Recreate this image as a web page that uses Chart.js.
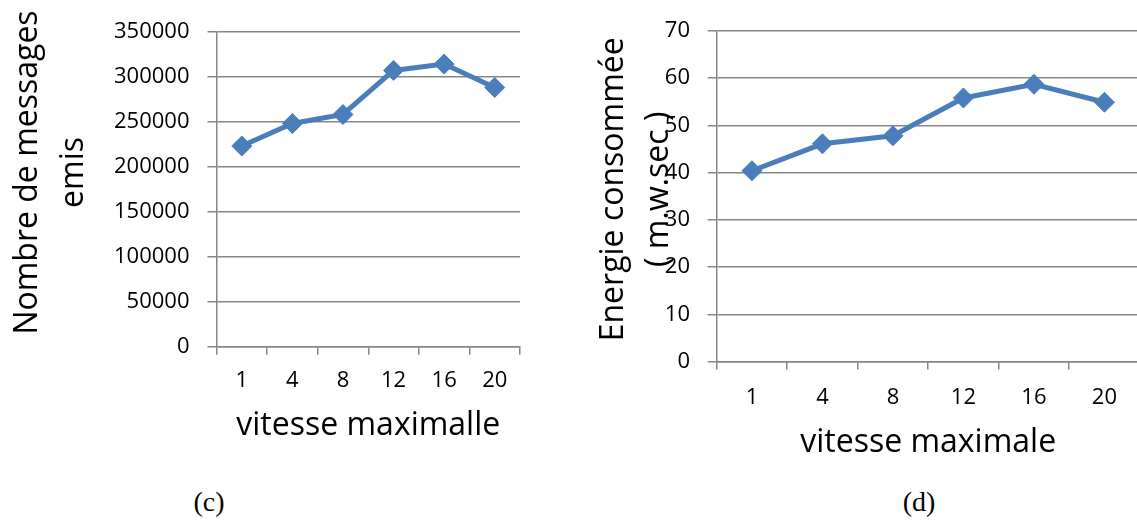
<!DOCTYPE html>
<html lang="fr">
<head>
<meta charset="utf-8">
<title>Vitesse maximale : messages émis et énergie consommée</title>
<script src="https://cdn.jsdelivr.net/npm/chart.js@4.4.1/dist/chart.umd.min.js"></script>
<style>
  html, body { margin: 0; padding: 0; background: #fff; }
  body { width: 1137px; height: 521px; position: relative; overflow: hidden; }
  #chartC { position: absolute; left: 0; top: 0; }
  #chartD { position: absolute; left: 590px; top: 0; }
  .caption {
    position: absolute; top: 488px;
    font-family: "Liberation Serif", "Times New Roman", serif;
    font-size: 28px; line-height: 28px; color: #000;
    transform: translateX(-50%); white-space: nowrap;
  }
</style>
</head>
<body>
<canvas id="chartC" width="540" height="470"></canvas>
<canvas id="chartD" width="570" height="470"></canvas>
<div class="caption" style="left:209px">(c)</div>
<div class="caption" style="left:919px">(d)</div>
<script>
// Vitesse maximale des noeuds (catégories de l'axe horizontal)
const vitesses = ['1', '4', '8', '12', '16', '20'];
// (c) nombre de messages émis
const messagesEmis = [223000, 248000, 258000, 307000, 314000, 288000];
// (d) énergie consommée (m.w.sec)
const energieConsommee = [40.4, 46.1, 47.8, 55.8, 58.7, 54.9];
// graduations des axes verticaux
const messagesTicks = [0, 50000, 100000, 150000, 200000, 250000, 300000, 350000];
const energieTicks = [0, 10, 20, 30, 40, 50, 60, 70];

const SERIES = '#4A7EBB';
const GRID = '#868686';
const FONT = '"Open Sans", sans-serif';

// Titre vertical sur plusieurs lignes, tourné de 90°
const sideTitle = {
  id: 'sideTitle',
  afterDraw(chart, args, o) {
    const { ctx, chartArea } = chart;
    const cy = (chartArea.top + chartArea.bottom) / 2 + o.shift;
    ctx.save();
    ctx.font = o.size + 'px ' + FONT;
    ctx.fillStyle = '#000';
    ctx.textAlign = 'center';
    ctx.textBaseline = 'alphabetic';
    o.lines.forEach((line, i) => {
      ctx.save();
      ctx.translate(o.baseline + i * o.gap, cy);
      ctx.rotate(-Math.PI / 2);
      ctx.fillText(line, 0, 0);
      ctx.restore();
    });
    ctx.restore();
  }
};

function lineChart(id, values, ticks, cfg) {
  return new Chart(document.getElementById(id), {
    type: 'line',
    data: {
      labels: vitesses,
      datasets: [{
        data: values,
        borderColor: SERIES,
        backgroundColor: SERIES,
        borderWidth: 5,
        tension: 0,
        fill: false,
        pointStyle: 'rectRot',
        pointRadius: 10,
        pointBorderWidth: 1,
        pointBackgroundColor: SERIES,
        pointBorderColor: SERIES,
        clip: false
      }]
    },
    options: {
      responsive: false,
      animation: false,
      devicePixelRatio: 1,
      layout: { padding: cfg.padding },
      plugins: {
        legend: { display: false },
        tooltip: { enabled: false },
        sideTitle: cfg.yTitle
      },
      scales: {
        x: {
          offset: true,
          grid: { offset: true, drawOnChartArea: false, drawTicks: true, tickLength: 8, color: GRID, lineWidth: 1.5 },
          border: { color: GRID, width: 1.5 },
          ticks: { color: '#000', font: { family: FONT, size: 22 }, padding: cfg.xTickPad, maxRotation: 0, autoSkip: false },
          title: { display: true, text: cfg.xTitle, color: '#000', font: { family: FONT, size: 32 }, padding: { top: 0, bottom: cfg.xTitlePad } },
          afterFit: s => { s.height = cfg.xHeight; }
        },
        y: {
          min: ticks[0],
          max: ticks[ticks.length - 1],
          ticks: { stepSize: ticks[1] - ticks[0], color: '#000', font: { family: FONT, size: 22 }, padding: cfg.yTickPad, callback: v => String(v) },
          grid: { color: GRID, lineWidth: 1.5, tickLength: 9 },
          border: { color: GRID, width: 1.5 },
          afterFit: s => { s.width = cfg.yWidth; }
        }
      }
    },
    plugins: [sideTitle]
  });
}

lineChart('chartC', messagesEmis, messagesTicks, {
  padding: { left: 0, right: 20, top: 31.7, bottom: 0 },
  yWidth: 216.5,
  xHeight: 123.3,
  xTickPad: 13,
  yTickPad: 18,
  xTitle: 'vitesse maximalle',
  xTitlePad: 25,
  yTitle: { lines: ['Nombre de messages', 'emis'], baseline: 37.3, gap: 46, shift: -16.7, size: 32 }
});

lineChart('chartD', energieConsommee, energieTicks, {
  padding: { left: 0, right: 20.3, top: 28.3, bottom: 0 },
  yWidth: 126.7,
  xHeight: 108.4,
  xTickPad: 14.5,
  yTickPad: 17.7,
  xTitle: 'vitesse maximale',
  xTitlePad: 8.2,
  yTitle: { lines: ['Energie consommée', '( m.w.sec )'], baseline: 33.3, gap: 45, shift: -7, size: 32 }
});
</script>
</body>
</html>
